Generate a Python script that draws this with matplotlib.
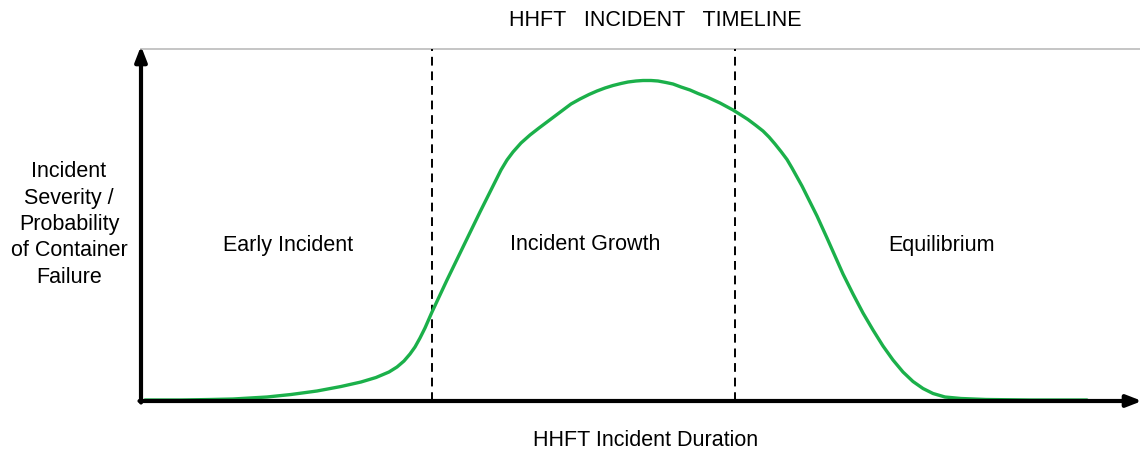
import numpy as np
from matplotlib import pyplot as plt

plt.rcParams['font.family'] = ['Liberation Sans', 'DejaVu Sans']

# incident duration (arbitrary units) and severity (arbitrary units)
duration = [4, 40, 70, 92, 126, 150, 176, 200, 220, 235, 248, 256, 263, 269,
            274, 279, 284, 291, 306, 322, 339, 347, 354, 360, 366, 372, 380,
            389, 398, 406, 414, 422, 430, 439, 448, 456, 464, 472, 480, 487,
            495, 502, 510, 517, 525, 532, 540, 549, 557, 566, 579, 592, 600,
            607, 615, 622, 628, 634, 640, 646, 651, 656, 661, 666, 671, 676,
            681, 686, 694, 702, 712, 722, 732, 742, 752, 762, 772, 782, 792,
            804, 820, 845, 889, 946]
severity = [1, 1, 1.5, 2, 4, 6.5, 10, 14.5, 19, 23.5, 29, 34, 40, 47,
            54, 63, 73, 89, 121, 154, 189, 205, 219, 231, 241, 249, 258,
            266, 273, 279, 285, 291, 297, 302, 306.5, 310, 313, 315.5, 317.5,
            319, 320, 320.5, 320.5, 320, 318.5, 317, 314, 311, 307.5, 304, 298,
            291, 286, 281.5, 275.5, 270, 264, 257, 249.5, 241.5, 233, 224, 215,
            205, 195, 185, 174, 163, 145, 127, 107, 88, 71, 55, 41, 29, 19.5,
            12.5, 7.5, 4, 2.5, 1.5, 1, 1]

phase_bounds = [291, 594]
phase_names = ['Early Incident', 'Incident Growth', 'Equilibrium']
phase_label_x = [147, 444, 800]

fig = plt.figure(figsize=(11.4, 4.51), dpi=100)
ax = fig.add_axes([141 / 1140, 50 / 451, 999 / 1140, 353 / 451])
ax.set_xlim(0, 999)
ax.set_ylim(0, 353)
ax.axis('off')

# top gray rule
ax.plot([0, 999], [352, 352], color='#c0c0c0', lw=1.3, clip_on=False)

# phase boundaries
for xb in phase_bounds:
    ax.plot([xb, xb], [0, 352], color='black', lw=1.4, ls=(0, (4.5, 3)))

ax.plot(duration, severity, color='#1bb04a', lw=2.4, solid_capstyle='round',
        solid_joinstyle='round', clip_on=False)

# axes with arrow heads
arrow = dict(arrowstyle='-|>,head_length=0.9,head_width=0.35', color='black',
             lw=3, shrinkA=0, shrinkB=0)
ax.annotate('', xy=(0, 355), xytext=(0, -1.5), arrowprops=arrow,
            annotation_clip=False)
ax.annotate('', xy=(1001, 0), xytext=(-1.5, 0), arrowprops=arrow,
            annotation_clip=False)

for name, lx in zip(phase_names, phase_label_x):
    ax.text(lx, 156, name, ha='center', va='center', fontsize=15.5)

fig.text(655 / 1140, 1 - 20 / 451, 'HHFT   INCIDENT   TIMELINE', ha='center',
         va='center', fontsize=15.5)
fig.text(646 / 1140, 1 - 440 / 451, 'HHFT Incident Duration', ha='center',
         va='center', fontsize=15.5)
fig.text(69 / 1140, 1 - 224.5 / 451,
         'Incident\nSeverity /\nProbability\nof Container\nFailure',
         ha='center', va='center', fontsize=15.5, linespacing=1.33)

fig.savefig('out.png', dpi=100)
